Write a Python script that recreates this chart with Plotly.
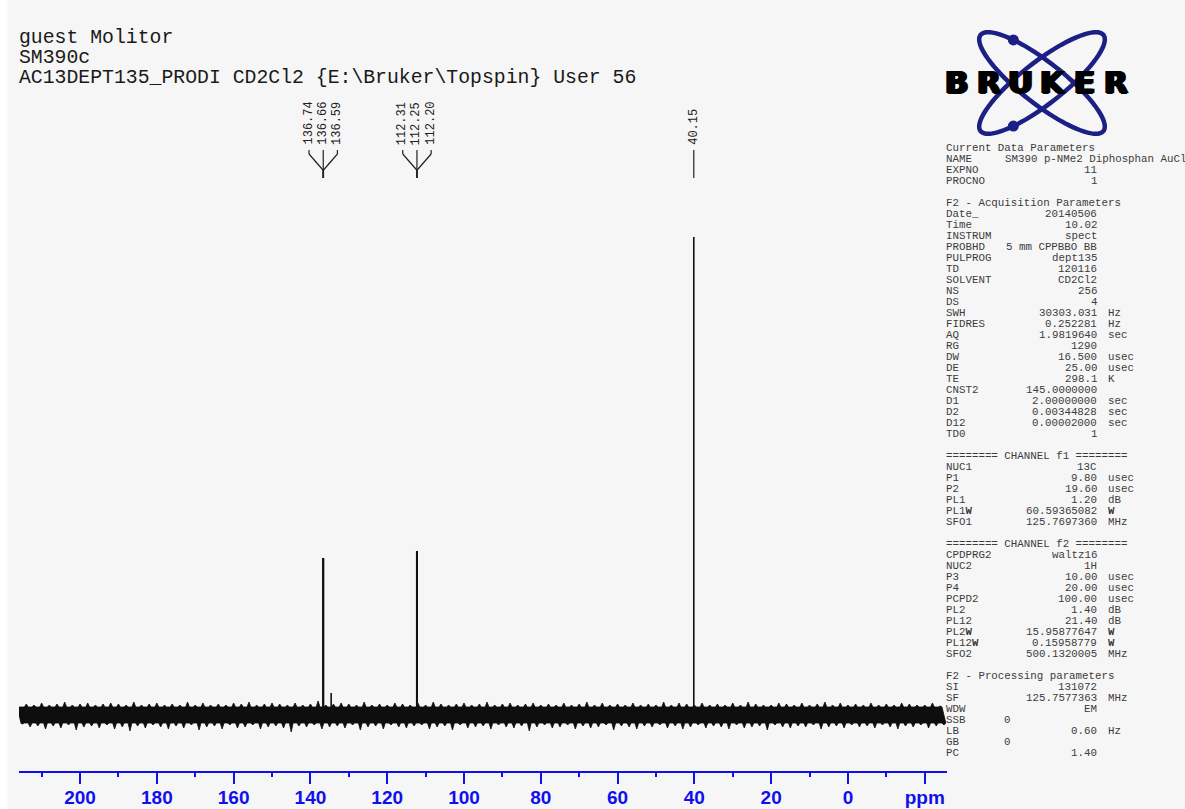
import numpy as np
import plotly.graph_objects as go

W, H = 1185, 809
BLUE = "#1010ee"
NAVY = "#1c2085"
INK = "#111111"

# ---------------- spectrum data (ppm / intensity, baseline = 0) ----------------
peak_ppm = [136.74, 136.66, 136.59, 134.60, 112.31, 112.25, 112.20, 40.15]
peak_height = [157, 157, 157, 22, 164, 164, 164, 478]

# baseline noise: solid core band plus spike extremes sampled every 2 ppm
NOISE_CORE_TOP, NOISE_CORE_BOTTOM = 8, -8
noise_ppm = [216, 214, 212, 210, 208, 206, 204, 202, 200, 198, 196, 194, 192, 190,
             188, 186, 184, 182, 180, 178, 176, 174, 172, 170, 168, 166, 164, 162,
             160, 158, 156, 154, 152, 150, 148, 146, 144, 142, 140, 138, 136, 134,
             132, 130, 128, 126, 124, 122, 120, 118, 116, 114, 112, 110, 108, 106,
             104, 102, 100, 98, 96, 94, 92, 90, 88, 86, 84, 82, 80, 78, 76, 74, 72,
             70, 68, 66, 64, 62, 60, 58, 56, 54, 52, 50, 48, 46, 44, 42, 40, 38, 36,
             34, 32, 30, 28, 26, 24, 22, 20, 18, 16, 14, 12, 10, 8, 6, 4, 2, 0, -2,
             -4, -6, -8, -10, -12, -14, -16, -18, -20, -22, -24]
noise_upper = [8, 11, 10, 12, 10, 11, 13, 10, 11, 12,
               10, 11, 12, 11, 10, 13, 10, 11, 12, 10,
               11, 10, 13, 10, 12, 10, 11, 10, 12, 11,
               13, 10, 11, 12, 11, 10, 12, 10, 11, 14,
               10, 11, 12, 11, 10, 13, 10, 11, 10, 12,
               11, 10, 12, 10, 13, 11, 10, 11, 12, 10,
               11, 13, 10, 11, 12, 10, 11, 12, 10, 11,
               10, 12, 10, 11, 13, 10, 12, 10, 11, 10,
               12, 10, 11, 10, 13, 10, 12, 11, 10, 12,
               10, 11, 10, 12, 10, 13, 11, 10, 10, 12,
               11, 10, 12, 10, 11, 13, 10, 12, 10, 11,
               10, 12, 10, 11, 10, 12, 11, 10, 10, 12,
               9]
noise_lower = [-9, -12, -11, -14, -11, -13, -10, -15, -12, -11,
               -13, -10, -14, -12, -16, -11, -13, -10, -12, -14,
               -11, -13, -10, -15, -12, -11, -14, -10, -13, -12,
               -10, -14, -12, -11, -13, -17, -11, -12, -10, -14,
               -12, -11, -13, -10, -15, -12, -11, -14, -10, -12,
               -13, -11, -10, -14, -12, -11, -15, -10, -13, -12,
               -11, -14, -10, -12, -13, -11, -16, -12, -10, -13,
               -12, -10, -14, -11, -13, -12, -10, -15, -11, -12,
               -14, -11, -12, -10, -13, -11, -14, -12, -10, -13,
               -11, -12, -14, -10, -13, -12, -11, -15, -10, -12,
               -13, -11, -12, -10, -14, -12, -11, -13, -10, -12,
               -11, -13, -10, -12, -14, -11, -12, -10, -13, -11,
               -10]

# peak-pick label groups (each group fans into one tree)
label_groups = [[136.74, 136.66, 136.59], [112.31, 112.25, 112.20], [40.15]]

tick_vals = [200, 180, 160, 140, 120, 100, 80, 60, 40, 20, 0, -20]
tick_text = ["200", "180", "160", "140", "120", "100", "80", "60", "40", "20", "0", "ppm"]
minor_vals = [210, 190, 170, 150, 130, 110, 90, 70, 50, 30, 10, -10]

title_lines = ["guest Molitor", "SM390c",
               "AC13DEPT135_PRODI CD2Cl2 {E:\\Bruker\\Topspin} User 56"]

# parameter listing: (name, value, unit); single-element tuples are headers; None = blank
param_lines = [
    ("Current Data Parameters",),
    ("NAME", "SM390 p-NMe2 Diphosphan AuCl", ""),
    ("EXPNO", "11", ""),
    ("PROCNO", "1", ""),
    None,
    ("F2 - Acquisition Parameters",),
    ("Date_", "20140506", ""),
    ("Time", "10.02", ""),
    ("INSTRUM", "spect", ""),
    ("PROBHD", "5 mm CPPBBO BB", ""),
    ("PULPROG", "dept135", ""),
    ("TD", "120116", ""),
    ("SOLVENT", "CD2Cl2", ""),
    ("NS", "256", ""),
    ("DS", "4", ""),
    ("SWH", "30303.031", "Hz"),
    ("FIDRES", "0.252281", "Hz"),
    ("AQ", "1.9819640", "sec"),
    ("RG", "1290", ""),
    ("DW", "16.500", "usec"),
    ("DE", "25.00", "usec"),
    ("TE", "298.1", "K"),
    ("CNST2", "145.0000000", ""),
    ("D1", "2.00000000", "sec"),
    ("D2", "0.00344828", "sec"),
    ("D12", "0.00002000", "sec"),
    ("TD0", "1", ""),
    None,
    ("======== CHANNEL f1 ========",),
    ("NUC1", "13C", ""),
    ("P1", "9.80", "usec"),
    ("P2", "19.60", "usec"),
    ("PL1", "1.20", "dB"),
    ("PL1<b>W</b>", "60.59365082", "<b>W</b>"),
    ("SFO1", "125.7697360", "MHz"),
    None,
    ("======== CHANNEL f2 ========",),
    ("CPDPRG2", "waltz16", ""),
    ("NUC2", "1H", ""),
    ("P3", "10.00", "usec"),
    ("P4", "20.00", "usec"),
    ("PCPD2", "100.00", "usec"),
    ("PL2", "1.40", "dB"),
    ("PL12", "21.40", "dB"),
    ("PL2<b>W</b>", "15.95877647", "<b>W</b>"),
    ("PL12<b>W</b>", "0.15958779", "<b>W</b>"),
    ("SFO2", "500.1320005", "MHz"),
    None,
    ("F2 - Processing parameters",),
    ("SI", "131072", ""),
    ("SF", "125.7577363", "MHz"),
    ("WDW", "EM", ""),
    ("SSB", "0", "", "short"),
    ("LB", "0.60", "Hz"),
    ("GB", "0", "", "short"),
    ("PC", "1.40", ""),
]

# ---------------- geometry helpers (pixel -> paper) ----------------
def xp(px):
    return px / W


def yp(py):
    return 1 - py / H


AX_LEFT, AX_RIGHT, AX_Y = 19, 947, 771
BASE_PX = 715
MONO = "Liberation Mono, Courier New, monospace"

fig = go.Figure()

# baseline noise as a filled outline: narrow spikes standing on a solid core
SPIKE_HALF = 0.5  # ppm
top_x, top_y, bot_x, bot_y = [], [], [], []
for p, u, lo in zip(noise_ppm, noise_upper, noise_lower):
    top_x += [p + SPIKE_HALF, p, p - SPIKE_HALF]
    top_y += [NOISE_CORE_TOP, u, NOISE_CORE_TOP]
    q = p - 1
    bot_x += [q + SPIKE_HALF, q, q - SPIKE_HALF]
    bot_y += [NOISE_CORE_BOTTOM, lo, NOISE_CORE_BOTTOM]
band_x = top_x + bot_x[::-1]
band_y = top_y + bot_y[::-1]
fig.add_trace(go.Scatter(x=band_x, y=band_y, mode="lines", fill="toself",
                         fillcolor="#0e0e0e", line=dict(color="#0e0e0e", width=0.8),
                         hoverinfo="skip"))

# peaks as vertical sticks from the baseline
sx, sy = [], []
for p, h in zip(peak_ppm, peak_height):
    sx += [p, p, None]
    sy += [0, h, None]
fig.add_trace(go.Scatter(x=sx, y=sy, mode="lines",
                         line=dict(color=INK, width=1.6), hoverinfo="skip"))

shapes = [
    # thin white strip along the left edge of the page
    dict(type="rect", xref="paper", yref="paper", x0=0, x1=xp(7.5), y0=0, y1=1,
         fillcolor="#ffffff", line=dict(width=0), layer="below"),
]
annotations = []

# peak labels with connecting trees
LABEL_STEP = 3.7
for grp in label_groups:
    c = float(np.mean(grp))
    n = len(grp)
    for i, p in enumerate(grp):
        lx = c + (n - 1) / 2 * LABEL_STEP - i * LABEL_STEP
        annotations.append(dict(x=lx, xref="x", y=yp(147), yref="paper",
                                text=f"{p:.2f}", textangle=-90, showarrow=False,
                                xanchor="center", yanchor="bottom",
                                font=dict(family=MONO, size=12, color="#222")))
        for (x0, y0, x1, y1) in [(lx, 150, lx, 154), (lx, 154, p, 170), (p, 170, p, 178)]:
            shapes.append(dict(type="line", xref="x", yref="paper",
                               x0=x0, y0=yp(y0), x1=x1, y1=yp(y1),
                               line=dict(color="#222", width=1.2)))

# title block
for i, t in enumerate(title_lines):
    annotations.append(dict(x=xp(17), y=yp(38.5 + 19.5 * i), xref="paper", yref="paper",
                            text=t, showarrow=False, xanchor="left", yanchor="middle",
                            font=dict(family=MONO, size=19.8, color="#1a1a1a")))

# parameter listing
P_LEFT, P_RIGHT, P_UNIT, P_TOP, P_STEP = 944, 1099, 1106, 148, 11.0
pfont = dict(family=MONO, size=10.8, color="#3c3c3c")
for i, row in enumerate(param_lines):
    if row is None:
        continue
    y = yp(P_TOP + P_STEP * i)
    base = dict(xref="paper", yref="paper", y=y, showarrow=False, yanchor="middle", font=pfont)
    if len(row) == 1:
        annotations.append(dict(base, x=xp(P_LEFT), xanchor="left", text=row[0]))
        continue
    name, value, unit = row[:3]
    annotations.append(dict(base, x=xp(P_LEFT), xanchor="left", text=name))
    if len(row) == 4:
        annotations.append(dict(base, x=xp(1007), xanchor="center", text=value))
    elif len(value) > 16:
        annotations.append(dict(base, x=xp(1003), xanchor="left", text=value))
    else:
        annotations.append(dict(base, x=xp(P_RIGHT), xanchor="right", text=value))
    if unit:
        annotations.append(dict(base, x=xp(P_UNIT), xanchor="left", text=unit))

# logo: two crossed orbits with electrons and the word mark
def ellipse_pts(cx, cy, a, b, theta_deg, t):
    th = np.radians(theta_deg)
    xs = cx + a * np.cos(t) * np.cos(th) - b * np.sin(t) * np.sin(th)
    ys = cy + a * np.cos(t) * np.sin(th) + b * np.sin(t) * np.cos(th)
    return xs, ys


LOGO_C = (1042, 83)
for theta, t_dot in [(38, -129), (-38, 129)]:
    tt = np.linspace(0, 2 * np.pi, 97)
    xs, ys = ellipse_pts(LOGO_C[0], LOGO_C[1], 78, 21, theta, tt)
    path = "M " + " L ".join(f"{xp(x):.5f},{yp(y):.5f}" for x, y in zip(xs, ys)) + " Z"
    shapes.append(dict(type="path", xref="paper", yref="paper", path=path,
                       line=dict(color=NAVY, width=4.5)))
    dx, dy = ellipse_pts(LOGO_C[0], LOGO_C[1], 78, 21, theta, np.radians(t_dot))
    r = 5.5
    shapes.append(dict(type="circle", xref="paper", yref="paper",
                       x0=xp(dx - r), x1=xp(dx + r), y0=yp(dy - r), y1=yp(dy + r),
                       fillcolor=NAVY, line=dict(color=NAVY, width=0)))

LOGO_SHADOW = "1.5px 0px 0px #000, -1.5px 0px 0px #000, 0px 0.5px 0px #000"
for i, ch in enumerate("BRUKER"):
    annotations.append(dict(x=xp(957 + 31.8 * i), y=yp(82), xref="paper", yref="paper",
                            text=f"<b>{ch}</b>", showarrow=False,
                            xanchor="center", yanchor="middle",
                            font=dict(family="DejaVu Sans", size=31, color="#000",
                                      shadow=LOGO_SHADOW)))

fig.update_layout(
    width=W, height=H,
    margin=dict(l=0, r=0, t=0, b=0),
    paper_bgcolor="#f6f6f6",
    plot_bgcolor="rgba(0,0,0,0)",
    showlegend=False,
    shapes=shapes,
    annotations=annotations,
    xaxis=dict(
        domain=[xp(AX_LEFT), xp(AX_RIGHT)],
        range=[215.9, -25.8],
        tickvals=tick_vals, ticktext=tick_text,
        ticks="outside", ticklen=11, tickwidth=2, tickcolor=BLUE,
        showline=True, linecolor=BLUE, linewidth=2,
        showgrid=False, zeroline=False, automargin=False,
        ticklabelstandoff=-3,
        tickfont=dict(family="Liberation Sans, Arial", size=19, color=BLUE, weight="bold"),
        minor=dict(tickvals=minor_vals, ticks="outside", ticklen=4, tickwidth=1.5,
                   tickcolor=BLUE, showgrid=False),
    ),
    yaxis=dict(
        domain=[1 - AX_Y / H, 1],
        range=[-(AX_Y - BASE_PX), BASE_PX],
        visible=False, showgrid=False, zeroline=False, automargin=False,
    ),
)

fig.write_html("out.html")
